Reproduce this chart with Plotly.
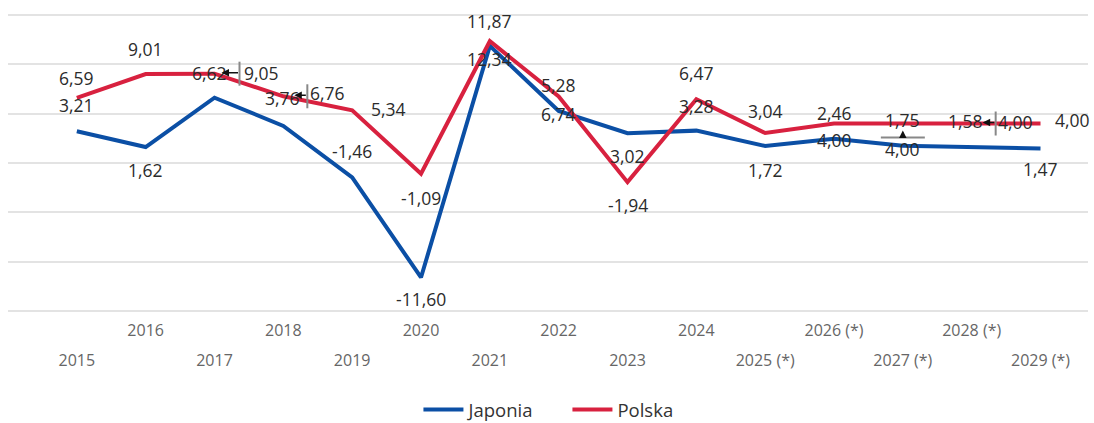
import plotly.graph_objects as go

years = ["2015", "2016", "2017", "2018", "2019", "2020", "2021", "2022", "2023",
         "2024", "2025 (*)", "2026 (*)", "2027 (*)", "2028 (*)", "2029 (*)"]
japonia = [3.21, 1.62, 6.62, 3.76, -1.46, -11.60, 11.87, 5.28, 3.02, 3.28, 1.72, 2.46, 1.75, 1.58, 1.47]
polska = [6.59, 9.01, 9.05, 6.76, 5.34, -1.09, 12.34, 6.74, -1.94, 6.47, 3.04, 4.00, 4.00, 4.00, 4.00]

# label offsets in screen pixels (dx right, dy down) - emulating reference placement
jap_off = [(0, -26), (0, 23), (-5, -25), (-1, -28), (0, -26), (0, 22), (0, -25), (0, -26),
           (0, 23), (0, -25), (0, 24), (0, -26), (0, -26), (-6, -26), (0, 21)]
pol_off = [(0, -20), (0, -25), (47, -1), (44, -3), (36, -1), (0, 24), (0, 18), (0, 18),
           (0, 23), (0, -26), (0, -22), (0, 16), (0, 25), (44, -2), (32, -4)]

BLUE = "#0b4fa5"
RED = "#d8213f"
FONT = "Open Sans"

idx = list(range(len(years)))

fig = go.Figure()
fig.add_trace(go.Scatter(x=idx, y=japonia, mode="lines", name="Japonia",
                         line=dict(color=BLUE, width=4)))
fig.add_trace(go.Scatter(x=idx, y=polska, mode="lines", name="Polska",
                         line=dict(color=RED, width=4)))

def fmt(v):
    return f"{v:.2f}".replace(".", ",")

ann = []
for series, offs in ((japonia, jap_off), (polska, pol_off)):
    for i, v in enumerate(series):
        dx, dy = offs[i]
        ann.append(dict(x=i, y=v, xref="x", yref="y", text=fmt(v), showarrow=False,
                        xshift=dx, yshift=-dy,
                        font=dict(family=FONT, size=17.5, color="#2b2b2b")))

# collision connector glyphs (as in reference)
for i, v, head_dx, tail_dx in ((2, polska[2], 7, 25), (3, polska[3], 11, 24), (13, polska[13], 11, 24)):
    ann.append(dict(x=i, y=v, xref="x", yref="y", text="", showarrow=True,
                    xshift=head_dx, yshift=1, ax=tail_dx - head_dx, ay=0,
                    arrowhead=2, arrowsize=1, arrowwidth=1.5, arrowcolor="#111"))
ann.append(dict(x=12, y=polska[12], xref="x", yref="y", text="", showarrow=True,
                xshift=0, yshift=-7, ax=0, ay=7,
                arrowhead=2, arrowsize=1, arrowwidth=1.5, arrowcolor="#111"))

shapes = []
for i, v, dx in ((2, polska[2], 25), (3, polska[3], 24), (13, polska[13], 24)):
    shapes.append(dict(type="line", xref="x", yref="y", xsizemode="pixel", ysizemode="pixel",
                       xanchor=i, yanchor=v, x0=dx, x1=dx, y0=-12, y1=12,
                       line=dict(color="#888", width=2)))
shapes.append(dict(type="line", xref="x", yref="y", xsizemode="pixel", ysizemode="pixel",
                   xanchor=12, yanchor=polska[12], x0=-22, x1=22, y0=-14, y1=-14,
                   line=dict(color="#888", width=2)))

odd_vals = [i for i in idx if i % 2 == 1]
even_vals = [i for i in idx if i % 2 == 0]
xr = [-1.0, 14.69]

fig.update_layout(
    width=1094, height=423,
    margin=dict(l=8, r=6, t=12, b=109, autoexpand=False),
    paper_bgcolor="white", plot_bgcolor="white",
    font=dict(family=FONT),
    xaxis=dict(range=xr, tickmode="array", tickvals=odd_vals,
               ticktext=[years[i] for i in odd_vals], showgrid=False, zeroline=False,
               showline=False, ticks="", ticklabelstandoff=5, automargin=False,
               tickfont=dict(family=FONT, size=16, color="#666")),
    xaxis2=dict(range=xr, overlaying="x", anchor="y", side="bottom", tickmode="array",
                tickvals=even_vals, ticktext=[years[i] for i in even_vals],
                showgrid=False, zeroline=False, showline=False, ticks="",
                ticklabelstandoff=35, automargin=False,
                tickfont=dict(family=FONT, size=16, color="#666")),
    yaxis=dict(range=[-15.3, 15.3], dtick=5, tick0=0, showticklabels=False,
               gridcolor="#e3e3e3", gridwidth=2, zeroline=False, showline=False,
               automargin=False),
    legend=dict(orientation="h", x=0.518, xanchor="center", y=-0.318,
                yanchor="middle", font=dict(family=FONT, size=18.5, color="#333"),
                itemwidth=40, entrywidth=94, traceorder="normal"),
    annotations=ann,
    shapes=shapes,
    showlegend=True,
)
# dummy invisible trace so xaxis2 is drawn
fig.add_trace(go.Scatter(x=[0], y=[0], xaxis="x2", yaxis="y", mode="markers",
                         marker=dict(opacity=0), showlegend=False, hoverinfo="skip"))

fig.write_html("out.html", config={"displayModeBar": False},
               post_script="document.body.style.margin='0';")
